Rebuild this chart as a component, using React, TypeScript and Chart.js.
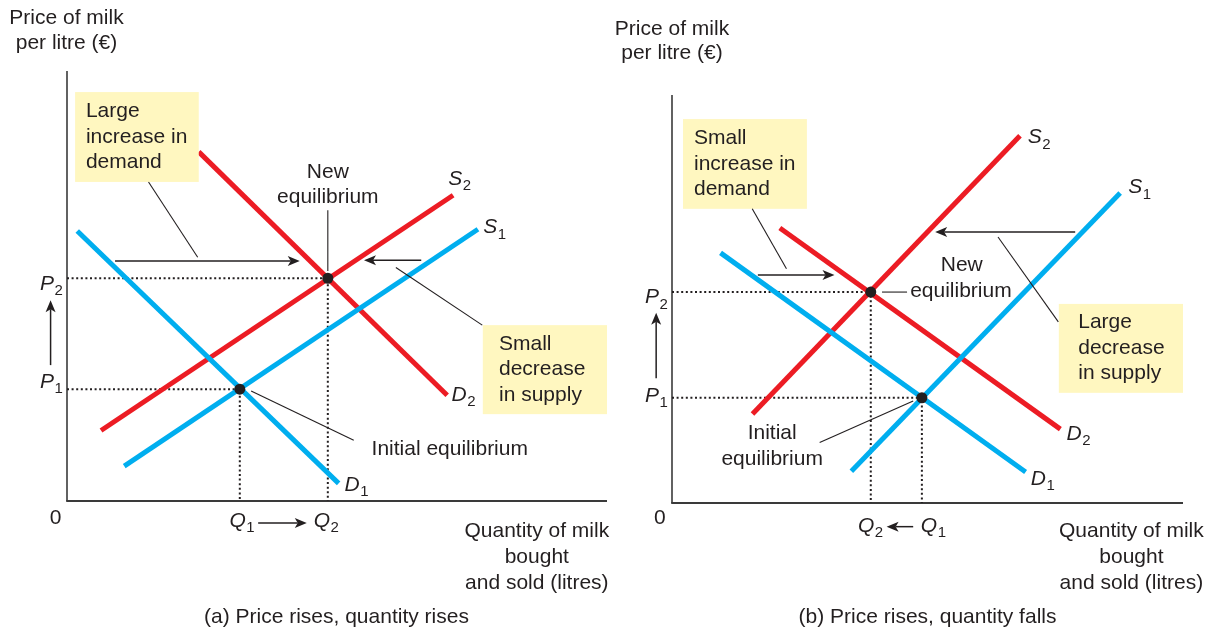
import React, { useEffect, useRef } from "react";
import { Chart, registerables } from "chart.js";

Chart.register(...registerables);

// ---------------- Data: panel (a) Price rises, quantity rises ----------------
// quantity (x) and price (y) of each curve's end points, in index units 0-100
const aD1Q = [1.9, 50.3];
const aD1P = [62.8, 4.1];
const aD2Q = [24.4, 70.4];
const aD2P = [81.2, 24.6];
const aS1Q = [10.6, 76.1];
const aS1P = [8.1, 63.2];
const aS2Q = [6.3, 71.5];
const aS2P = [16.4, 71.1];
const aEqQ = [32.0, 48.3]; // Q1, Q2
const aEqP = [26.0, 51.8]; // P1, P2

// ---------------- Data: panel (b) Price rises, quantity falls ----------------
const bD1Q = [9.5, 69.2];
const bD1P = [61.3, 7.6];
const bD2Q = [21.1, 76.0];
const bD2P = [67.4, 18.1];
const bS1Q = [35.1, 87.7];
const bS1P = [7.8, 76.0];
const bS2Q = [15.75, 68.1];
const bS2P = [21.8, 90.0];
const bEqQ = [48.9, 38.9]; // Q1, Q2
const bEqP = [25.8, 51.7]; // P1, P2

// ---------------- Text ----------------
const yTitle = ["Price of milk", "per litre (€)"];
const xTitle = ["Quantity of milk", "bought", "and sold (litres)"];
const captionA = "(a) Price rises, quantity rises";
const captionB = "(b) Price rises, quantity falls";
const boxA1 = ["Large", "increase in", "demand"];
const boxA2 = ["Small", "decrease", "in supply"];
const boxB1 = ["Small", "increase in", "demand"];
const boxB2 = ["Large", "decrease", "in supply"];

const FONT = '"Liberation Sans", Arial, Helvetica, sans-serif';
const RED = "#EC1C24";
const BLUE = "#00AEEF";
const INK = "#231F20";
const BOXC = "#FFF7C0";

type Ann =
  | { k: "box"; x1: number; y1: number; x2: number; y2: number }
  | { k: "text"; x: number; ys: number[]; lines: string[]; align: CanvasTextAlign }
  | { k: "line"; x1: number; y1: number; x2: number; y2: number }
  | { k: "arrow"; x1: number; y1: number; x2: number; y2: number }
  | { k: "sub"; x: number; y: number; main: string; sub: string };

interface Panel {
  width: number;
  pad: { left: number; right: number; top: number; bottom: number };
  red: [number[], number[]][];
  blue: [number[], number[]][];
  eqQ: number[];
  eqP: number[];
  anns: Ann[];
}

const PANEL_A: Panel = {
  width: 640,
  pad: { left: 67, right: 33, top: 71, bottom: 129 },
  red: [
    [aD2Q, aD2P],
    [aS2Q, aS2P],
  ],
  blue: [
    [aD1Q, aD1P],
    [aS1Q, aS1P],
  ],
  eqQ: aEqQ,
  eqP: aEqP,
  anns: [
    { k: "box", x1: 1.5, y1: 95.1, x2: 24.4, y2: 74.2 },
    { k: "box", x1: 77.0, y1: 40.9, x2: 100, y2: 20.2 },
    { k: "text", x: 3.5, ys: [90.7, 84.6, 78.8], lines: boxA1, align: "left" },
    { k: "text", x: 80, ys: [36.5, 30.6, 24.6], lines: boxA2, align: "left" },
    { k: "text", x: 56.4, ys: [12.0], lines: ["Initial equilibrium"], align: "left" },
    { k: "text", x: 48.3, ys: [76.5, 70.6], lines: ["New", "equilibrium"], align: "center" },
    { k: "text", x: -0.1, ys: [112.3, 106.5], lines: yTitle, align: "center" },
    { k: "text", x: -2.1, ys: [-4.0], lines: ["0"], align: "center" },
    { k: "text", x: 87.0, ys: [-7.0, -13.1, -19.1], lines: xTitle, align: "center" },
    { k: "text", x: 49.9, ys: [-27.1], lines: [captionA], align: "center" },
    { k: "line", x1: 48.3, y1: 67.6, x2: 48.3, y2: 53.5 },
    { k: "line", x1: 15.1, y1: 74.2, x2: 24.2, y2: 56.7 },
    { k: "line", x1: 60.9, y1: 54.3, x2: 76.9, y2: 40.9 },
    { k: "line", x1: 34.1, y1: 25.6, x2: 53.1, y2: 14.1 },
    { k: "arrow", x1: 8.9, y1: 55.8, x2: 43.1, y2: 55.8 },
    { k: "arrow", x1: 65.6, y1: 56.0, x2: 55.0, y2: 56.0 },
    { k: "arrow", x1: -3.04, y1: 31.6, x2: -3.04, y2: 46.7 },
    { k: "arrow", x1: 35.4, y1: -5.1, x2: 44.4, y2: -5.1 },
    { k: "sub", x: 70.6, y: 74.9, main: "S", sub: "2" },
    { k: "sub", x: 77.1, y: 63.6, main: "S", sub: "1" },
    { k: "sub", x: 71.2, y: 24.7, main: "D", sub: "2" },
    { k: "sub", x: 51.4, y: 3.8, main: "D", sub: "1" },
    { k: "sub", x: -5.0, y: 50.5, main: "P", sub: "2" },
    { k: "sub", x: -5.0, y: 27.6, main: "P", sub: "1" },
    { k: "sub", x: 30.1, y: -4.6, main: "Q", sub: "1" },
    { k: "sub", x: 45.7, y: -4.6, main: "Q", sub: "2" },
  ],
};

const PANEL_B: Panel = {
  width: 609,
  pad: { left: 62, right: 36, top: 95, bottom: 127 },
  red: [
    [bD2Q, bD2P],
    [bS2Q, bS2P],
  ],
  blue: [
    [bD1Q, bD1P],
    [bS1Q, bS1P],
  ],
  eqQ: bEqQ,
  eqP: bEqP,
  anns: [
    { k: "box", x1: 2.15, y1: 94.1, x2: 26.4, y2: 72.1 },
    { k: "box", x1: 75.7, y1: 48.8, x2: 100, y2: 27.0 },
    { k: "text", x: 4.3, ys: [89.5, 83.1, 77.0], lines: boxB1, align: "left" },
    { k: "text", x: 79.5, ys: [44.4, 38.0, 31.9], lines: boxB2, align: "left" },
    { k: "text", x: 46.6, ys: [52.0], lines: ["equilibrium"], align: "left" },
    { k: "text", x: 56.7, ys: [58.3], lines: ["New"], align: "center" },
    { k: "text", x: 19.6, ys: [17.2, 10.8], lines: ["Initial", "equilibrium"], align: "center" },
    { k: "text", x: 0, ys: [116.2, 110.3], lines: yTitle, align: "center" },
    { k: "text", x: -2.4, ys: [-3.7], lines: ["0"], align: "center" },
    { k: "text", x: 89.9, ys: [-6.9, -13.2, -19.6], lines: xTitle, align: "center" },
    { k: "text", x: 50.0, ys: [-27.9], lines: [captionB], align: "center" },
    { k: "line", x1: 41.1, y1: 51.7, x2: 46.0, y2: 51.7 },
    { k: "line", x1: 15.7, y1: 72.1, x2: 22.4, y2: 57.4 },
    { k: "line", x1: 63.8, y1: 65.2, x2: 75.6, y2: 44.4 },
    { k: "line", x1: 28.9, y1: 14.8, x2: 47.2, y2: 25.0 },
    { k: "arrow", x1: 16.8, y1: 55.9, x2: 31.8, y2: 55.9 },
    { k: "arrow", x1: 78.9, y1: 66.4, x2: 51.5, y2: 66.4 },
    { k: "arrow", x1: -3.1, y1: 30.6, x2: -3.1, y2: 46.6 },
    { k: "arrow", x1: 47.2, y1: -5.8, x2: 42.0, y2: -5.8 },
    { k: "sub", x: 69.6, y: 89.6, main: "S", sub: "2" },
    { k: "sub", x: 89.3, y: 77.3, main: "S", sub: "1" },
    { k: "sub", x: 77.2, y: 16.9, main: "D", sub: "2" },
    { k: "sub", x: 70.2, y: 5.8, main: "D", sub: "1" },
    { k: "sub", x: -5.3, y: 50.4, main: "P", sub: "2" },
    { k: "sub", x: -5.3, y: 26.3, main: "P", sub: "1" },
    { k: "sub", x: 36.4, y: -5.6, main: "Q", sub: "2" },
    { k: "sub", x: 48.7, y: -5.6, main: "Q", sub: "1" },
  ],
};

function drawArrow(ctx: CanvasRenderingContext2D, x1: number, y1: number, x2: number, y2: number) {
  const a = Math.atan2(y2 - y1, x2 - x1);
  const c = Math.cos(a);
  const s = Math.sin(a);
  const L = 12;
  const W = 5;
  const N = 3;
  ctx.beginPath();
  ctx.moveTo(x1, y1);
  ctx.lineTo(x2 - (L - N) * c, y2 - (L - N) * s);
  ctx.stroke();
  ctx.beginPath();
  ctx.moveTo(x2, y2);
  ctx.lineTo(x2 - L * c - W * s, y2 - L * s + W * c);
  ctx.lineTo(x2 - (L - N) * c, y2 - (L - N) * s);
  ctx.lineTo(x2 - L * c + W * s, y2 - L * s - W * c);
  ctx.closePath();
  ctx.fill();
}

function makePlugin(p: Panel) {
  return {
    id: "econAnn",
    beforeDatasetsDraw(chart: any) {
      const { ctx, chartArea: a } = chart;
      ctx.save();
      ctx.strokeStyle = "#3a3a3a";
      ctx.lineWidth = 1.6;
      ctx.beginPath();
      ctx.moveTo(a.left, a.top);
      ctx.lineTo(a.left, a.bottom);
      ctx.stroke();
      ctx.lineWidth = 2.2;
      ctx.beginPath();
      ctx.moveTo(a.left - 0.8, a.bottom);
      ctx.lineTo(a.right, a.bottom);
      ctx.stroke();
      ctx.restore();
    },
    afterDatasetsDraw(chart: any) {
      const ctx: CanvasRenderingContext2D = chart.ctx;
      const X = (v: number) => chart.scales.x.getPixelForValue(v);
      const Y = (v: number) => chart.scales.y.getPixelForValue(v);
      ctx.save();
      for (const an of p.anns) {
        if (an.k === "box") {
          ctx.fillStyle = BOXC;
          ctx.fillRect(X(an.x1), Y(an.y1), X(an.x2) - X(an.x1), Y(an.y2) - Y(an.y1));
        }
      }
      ctx.strokeStyle = INK;
      ctx.fillStyle = INK;
      for (const an of p.anns) {
        if (an.k === "line") {
          ctx.lineWidth = 1.1;
          ctx.beginPath();
          ctx.moveTo(X(an.x1), Y(an.y1));
          ctx.lineTo(X(an.x2), Y(an.y2));
          ctx.stroke();
        } else if (an.k === "arrow") {
          ctx.lineWidth = 1.5;
          drawArrow(ctx, X(an.x1), Y(an.y1), X(an.x2), Y(an.y2));
        }
      }
      ctx.textBaseline = "middle";
      for (const an of p.anns) {
        if (an.k === "text") {
          ctx.font = `21px ${FONT}`;
          ctx.textAlign = an.align;
          an.lines.forEach((ln, i) => ctx.fillText(ln, X(an.x), Y(an.ys[i])));
        } else if (an.k === "sub") {
          ctx.textAlign = "left";
          ctx.font = `italic 21px ${FONT}`;
          const x = X(an.x);
          const y = Y(an.y);
          ctx.fillText(an.main, x, y);
          const w = ctx.measureText(an.main).width;
          ctx.font = `15px ${FONT}`;
          ctx.fillText(an.sub, x + w + 0.5, y + 7);
        }
      }
      ctx.restore();
    },
  };
}

function curve(q: number[], p: number[], color: string, order: number) {
  return {
    data: q.map((x, i) => ({ x, y: p[i] })),
    showLine: true,
    borderColor: color,
    backgroundColor: color,
    borderWidth: 5,
    borderCapStyle: "butt",
    pointRadius: 0,
    order,
    clip: false,
  };
}

function guide(q: number, p: number) {
  return {
    data: [
      { x: 0, y: p },
      { x: q, y: p },
      { x: q, y: 0 },
    ],
    showLine: true,
    borderColor: INK,
    borderWidth: 2,
    borderDash: [2, 2.6],
    pointRadius: 0,
    order: 4,
    clip: false,
  };
}

function makeChart(canvas: HTMLCanvasElement, p: Panel) {
  const datasets: any[] = [
    {
      data: p.eqQ.map((x, i) => ({ x, y: p.eqP[i] })),
      showLine: false,
      pointRadius: 5.5,
      pointBackgroundColor: INK,
      pointBorderWidth: 0,
      order: 0,
      clip: false,
    },
    ...p.blue.map(([q, pr]) => curve(q, pr, BLUE, 1)),
    ...p.red.map(([q, pr]) => curve(q, pr, RED, 2)),
    ...p.eqQ.map((q, i) => guide(q, p.eqP[i])),
  ];
  return new Chart(canvas, {
    type: "scatter",
    data: { datasets },
    options: {
      animation: false,
      responsive: false,
      devicePixelRatio: 1,
      events: [],
      layout: { padding: p.pad },
      plugins: {
        legend: { display: false },
        tooltip: { enabled: false },
        title: { display: false },
      },
      scales: {
        x: { type: "linear", min: 0, max: 100, display: false },
        y: { type: "linear", min: 0, max: 100, display: false },
      },
    } as any,
    plugins: [makePlugin(p) as any],
  });
}

export default function App() {
  const refA = useRef<HTMLCanvasElement>(null);
  const refB = useRef<HTMLCanvasElement>(null);
  useEffect(() => {
    const charts = [makeChart(refA.current!, PANEL_A), makeChart(refB.current!, PANEL_B)];
    return () => charts.forEach((c) => c.destroy());
  }, []);
  return (
    <div style={{ position: "absolute", left: 0, top: 0, width: 1219, height: 630, background: "#fff" }}>
      <canvas ref={refA} width={640} height={630} style={{ position: "absolute", left: 0, top: 0 }} />
      <canvas ref={refB} width={609} height={630} style={{ position: "absolute", left: 610, top: 0 }} />
    </div>
  );
}
